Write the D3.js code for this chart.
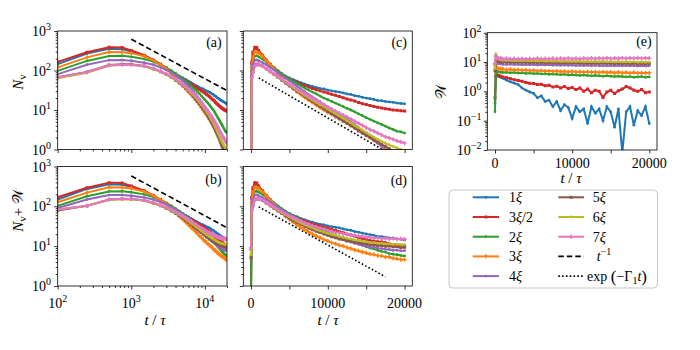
<!DOCTYPE html>
<html>
<head>
<meta charset="utf-8">
<script src="https://cdn.jsdelivr.net/npm/d3@7"></script>
<style>
  body { margin: 0; background: #fff; }
  svg text { font-family: "Liberation Serif", "Times New Roman", serif; fill: #000; }
</style>
</head>
<body>
<svg id="fig" width="700" height="350"></svg>
<script>
// time grid (t / tau) shared by every series
var T = [0, 100, 250, 500, 750, 1000, 1500, 2000, 2500, 3000, 3500, 4000, 4500, 5000, 5500, 6000,
  6500, 7000, 7500, 8000, 8500, 9000, 9500, 10000, 10500, 11000, 11500, 12000, 12500, 13000, 13500,
  14000, 14500, 15000, 15500, 16000, 16500, 17000, 17500, 18000, 18500, 19000, 19500, 20000];

var seriesNames = ["1", "3/2", "2", "3", "4", "5", "6", "7"];
var colors = ["#1f77b4", "#d62728", "#2ca02c", "#ff7f0e", "#9467bd", "#8c564b", "#bcbd22", "#e377c2"];
var markers = ["circle", "square", "circle", "cross", "circle", "square", "circle", "cross"];

// N_v, panels (a) and (c)
var nv1 = [0.1, 145, 270, 355, 345, 305, 235, 180, 142, 115, 95, 81, 72, 65, 59, 54, 49, 45.5, 42, 39.5, 37, 35, 34, 32, 30.5, 29.5, 28.5, 27, 25.5, 24.8, 23, 22.3, 21, 20, 19.3, 18.5, 17.5, 17.2, 16.5, 16, 15.7, 15, 14.7, 14.3];
var nv15 = [0.1, 165, 290, 390, 380, 320, 245, 185, 145, 116, 95, 80, 69, 61, 55, 49, 45, 41, 38, 35, 32.5, 30.5, 28.5, 27, 25, 23.5, 22, 20.5, 19, 18, 17, 15.5, 14.5, 13.7, 13, 12.3, 11.7, 11.2, 10.8, 10.4, 10, 9.8, 9.6, 9.5];
var nv2 = [0.1, 98, 175, 232, 235, 222, 195, 168, 140, 118, 99, 84, 72, 62, 54, 47, 41, 36, 32, 28.5, 25.5, 22.5, 20, 18.3, 16.5, 15, 13.5, 12.2, 11, 10, 9, 8, 7.2, 6.4, 5.8, 5.2, 4.7, 4.3, 3.9, 3.5, 3.2, 2.9, 2.8, 2.6];
var nv3 = [0.1, 120, 215, 295, 290, 275, 230, 180, 140, 110, 84, 64, 51, 42, 35, 29, 24.5, 21, 18, 15.5, 13.3, 11.5, 10, 8.7, 7.7, 6.8, 6, 5.3, 4.7, 4.1, 3.6, 3.1, 2.7, 2.3, 2, 1.7, 1.5, 1.3, 1.12, 0.95, 0.75, 0.55, 0.4, 0.3];
var nv4 = [0.1, 81, 140, 183, 185, 177, 158, 140, 120, 103, 88, 75, 64, 55, 47, 40, 34, 29, 25, 21.5, 18.5, 16, 13.8, 12, 10.4, 9, 7.8, 6.8, 5.8, 5, 4.3, 3.6, 3, 2.5, 2.1, 1.75, 1.45, 1.2, 0.95, 0.75, 0.6, 0.45, 0.35, 0.3];
var nv5 = [0.1, 68, 92, 138, 145, 143, 130, 110, 93, 79, 67, 57, 48, 41, 35, 30, 26, 22, 19, 16.5, 14.3, 12.4, 10.8, 9.3, 8.1, 7, 6.1, 5.3, 4.6, 4, 3.5, 3, 2.6, 2.3, 2, 1.75, 1.55, 1.35, 1.2, 1.05, 0.9, 0.75, 0.6, 0.5];
var nv6 = [0.1, 64, 88, 132, 138, 138, 128, 108, 93, 80, 68, 58, 50, 43, 37, 31.5, 27, 23.5, 20.5, 17.8, 15.5, 13.5, 12, 10.5, 9.2, 8.1, 7.1, 6.2, 5.4, 4.7, 4.1, 3.6, 3.1, 2.7, 2.35, 2.05, 1.8, 1.6, 1.45, 1.3, 1.2, 1.1, 1, 0.9];
var nv7 = [0.1, 67, 90, 135, 140, 140, 130, 112, 96, 83, 71, 61, 52, 45, 39, 34, 29.5, 26, 22.5, 20, 17.5, 15.5, 13.5, 11.7, 10.4, 9.3, 8.3, 7.4, 6.6, 5.9, 5.2, 4.6, 4.1, 3.6, 3.2, 2.9, 2.6, 2.35, 2.1, 1.95, 1.8, 1.65, 1.55, 1.45];

// W, panel (e)
var w1 = [0.4, 3.0, 3.4, 3.2, 3.0, 2.8, 2.4, 2.1, 1.9, 1.7, 1.3, 1.1, 0.95, 0.85, 0.6, 0.7, 0.45, 0.5, 0.3, 0.45, 0.22, 0.35, 0.28, 0.12, 0.3, 0.2, 0.25, 0.08, 0.3, 0.18, 0.25, 0.1, 0.3, 0.2, 0.06, 0.25, 0.008, 0.2, 0.3, 0.07, 0.22, 0.15, 0.3, 0.08];
var w15 = [0.6, 3.4, 3.7, 3.5, 3.3, 3.1, 2.9, 2.7, 2.5, 2.35, 2.2, 2.0, 1.9, 1.85, 1.7, 1.75, 1.55, 1.6, 1.4, 1.5, 1.3, 1.45, 1.25, 1.35, 1.15, 1.3, 1.0, 1.2, 0.9, 1.1, 1.0, 0.62, 0.95, 1.1, 0.85, 1.05, 1.2, 1.45, 1.3, 1.1, 1.0, 1.15, 0.9, 0.95];
var w2 = [0.2, 4.4, 4.8, 4.6, 4.5, 4.4, 4.5, 4.3, 4.4, 4.2, 4.3, 4.1, 4.2, 4.0, 4.1, 3.9, 4.0, 3.8, 3.9, 3.8, 3.7, 3.8, 3.6, 3.7, 3.6, 3.5, 3.6, 3.5, 3.4, 3.5, 3.4, 3.3, 3.4, 3.3, 3.2, 3.3, 3.2, 3.1, 3.2, 3.0, 3.1, 3.2, 3.0, 3.1];
var w3 = [8, 7, 6.3, 6.0, 5.8, 5.7, 5.5, 5.6, 5.4, 5.5, 5.2, 5.3, 5.1, 5.2, 5.0, 5.1, 4.9, 5.0, 4.8, 4.9, 4.7, 4.8, 4.6, 4.8, 4.6, 4.7, 4.5, 4.7, 4.5, 4.6, 4.4, 4.6, 4.4, 4.5, 4.3, 4.5, 4.3, 4.4, 4.2, 4.4, 4.2, 4.3, 4.2, 4.3];
var w4 = [6, 9.5, 9, 8.7, 8.5, 8.4, 8.3, 8.4, 8.2, 8.3, 8.1, 8.2, 8.0, 8.1, 7.9, 8.0, 7.9, 8.0, 7.8, 7.9, 7.7, 7.9, 7.7, 7.8, 7.6, 7.8, 7.6, 7.7, 7.5, 7.7, 7.5, 7.6, 7.5, 7.6, 7.4, 7.6, 7.4, 7.5, 7.4, 7.5, 7.3, 7.5, 7.3, 7.4];
var w5 = [5, 11, 10.6, 10.3, 10.2, 10.1, 10.0, 10.1, 9.9, 10.0, 9.8, 9.9, 9.7, 9.8, 9.6, 9.7, 9.5, 9.6, 9.4, 9.5, 9.3, 9.5, 9.3, 9.4, 9.2, 9.3, 9.1, 9.3, 9.1, 9.2, 9.0, 9.2, 9.0, 9.1, 8.9, 9.1, 8.9, 9.0, 8.8, 9.0, 8.8, 8.9, 8.7, 8.9];
var w6 = [6, 19, 15, 12.5, 11.8, 11.5, 11.3, 11.4, 11.1, 11.3, 11.0, 11.2, 10.9, 11.1, 10.8, 11.0, 10.7, 10.9, 10.6, 10.8, 10.5, 10.7, 10.5, 10.6, 10.4, 10.6, 10.3, 10.5, 10.3, 10.4, 10.2, 10.4, 10.2, 10.3, 10.1, 10.3, 10.0, 10.2, 10.0, 10.1, 9.9, 10.1, 9.9, 10.0];
var w7 = [9, 16, 14, 13.2, 13.5, 12.8, 13.2, 12.6, 13.0, 12.7, 13.1, 12.6, 13.0, 12.7, 13.2, 12.8, 13.1, 12.7, 13.3, 12.8, 13.2, 12.9, 13.4, 12.9, 13.3, 12.8, 13.4, 13.0, 13.5, 13.0, 13.4, 13.1, 13.6, 13.1, 13.5, 13.2, 13.7, 13.2, 13.6, 13.3, 13.8, 13.3, 13.7, 13.5];

// guide lines [t, value]
var powerA = [[1000, 620], [20000, 31]];
var powerB = [[1000, 580], [20000, 29]];
var expC = [[1000, 65], [17500, 0.9]];
var expD = [[1000, 97], [17500, 1.7]];

var nv = [nv1, nv15, nv2, nv3, nv4, nv5, nv6, nv7];
var w = [w1, w15, w2, w3, w4, w5, w6, w7];

var svg = d3.select("#fig");

var boxA = {x0: 57.7, x1: 227, y0: 31, y1: 149.5, id: "ca"};
var boxB = {x0: 57.7, x1: 227, y0: 166.5, y1: 286, id: "cb"};
var boxC = {x0: 243.3, x1: 412.3, y0: 31, y1: 149.5, id: "cc"};
var boxD = {x0: 243.3, x1: 412.3, y0: 166.5, y1: 286, id: "cd"};
var boxE = {x0: 487.3, x1: 657, y0: 32.7, y1: 150, id: "ce"};

function xLog(b) { return d3.scaleLog().domain([100, 20000]).range([b.x0, b.x1]); }
function xLin(b) { return d3.scaleLinear().domain([-1000, 21000]).range([b.x0, b.x1]); }
function yLog(b, lo, hi) { return d3.scaleLog().domain([lo, hi]).range([b.y1, b.y0]); }

function symbolFor(m) {
  if (m === "square") return d3.symbol().type(d3.symbolSquare).size(9)();
  if (m === "cross") return d3.symbol().type(d3.symbolCross).size(10)();
  return d3.symbol().type(d3.symbolCircle).size(6)();
}

var defs = svg.append("defs");

function drawPanel(b, xs, ys, valueAt, keepT) {
  defs.append("clipPath").attr("id", b.id).append("rect")
    .attr("x", b.x0).attr("y", b.y0).attr("width", b.x1 - b.x0).attr("height", b.y1 - b.y0);
  var plot = svg.append("g").attr("clip-path", "url(#" + b.id + ")");
  nv.forEach(function(_, i) {
    var pts = T.map(function(t, k) { return {t: t, v: valueAt(i, k)}; })
      .filter(function(d) { return keepT(d.t); });
    var line = d3.line().x(function(d) { return xs(d.t); }).y(function(d) { return ys(d.v); });
    plot.append("path").datum(pts).attr("d", line)
      .attr("fill", "none").attr("stroke", colors[i]).attr("stroke-width", 2);
    plot.selectAll(null).data(pts).enter().append("path")
      .attr("transform", function(d) { return "translate(" + xs(d.t) + "," + ys(d.v) + ")"; })
      .attr("d", symbolFor(markers[i]))
      .attr("fill", colors[i]);
  });
  return plot;
}

function guide(plot, pts, xs, ys, dash) {
  plot.append("path").datum(pts)
    .attr("d", d3.line().x(function(d) { return xs(d[0]); }).y(function(d) { return ys(d[1]); }))
    .attr("fill", "none").attr("stroke", "#000").attr("stroke-width", 1.6)
    .attr("stroke-dasharray", dash);
}

function logMinor(lo, hi) {
  var out = [];
  for (var e = lo; e < hi; e++) {
    for (var m = 2; m <= 9; m++) out.push(m * Math.pow(10, e));
  }
  return out;
}

function axes(b, xs, ys, xMajor, xMinor, yMajor, yMinor) {
  var gx = svg.append("g").attr("transform", "translate(0," + b.y1 + ")");
  gx.call(d3.axisBottom(xs).tickValues(xMajor).tickSize(3.5).tickSizeOuter(0).tickFormat(""));
  if (xMinor) {
    gx.append("g").call(d3.axisBottom(xs).tickValues(xMinor).tickSize(2).tickSizeOuter(0).tickFormat(""));
  }
  var gy = svg.append("g").attr("transform", "translate(" + b.x0 + ",0)");
  gy.call(d3.axisLeft(ys).tickValues(yMajor).tickSize(3.5).tickSizeOuter(0).tickFormat(""));
  gy.append("g").call(d3.axisLeft(ys).tickValues(yMinor).tickSize(2).tickSizeOuter(0).tickFormat(""));
  svg.selectAll(".domain").remove();
  svg.selectAll(".tick line").attr("stroke", "#000").attr("stroke-width", 0.8);
  svg.append("rect").attr("x", b.x0).attr("y", b.y0)
    .attr("width", b.x1 - b.x0).attr("height", b.y1 - b.y0)
    .attr("fill", "none").attr("stroke", "#000").attr("stroke-width", 0.8);
}

function pow10(x, y, e, anchor) {
  var t = svg.append("text").attr("x", x).attr("y", y).attr("text-anchor", anchor).style("font-size", "14px");
  t.append("tspan").text("10");
  t.append("tspan").attr("dy", -6).style("font-size", "10px").text(e);
}

function plain(x, y, s, anchor) {
  svg.append("text").attr("x", x).attr("y", y).attr("text-anchor", anchor)
    .style("font-size", "14px").text(s);
}

function tTau(x, y) {
  var t = svg.append("text").attr("x", x).attr("y", y).attr("text-anchor", "middle").style("font-size", "15px");
  t.append("tspan").style("font-style", "italic").text("t");
  t.append("tspan").text(" / ");
  t.append("tspan").style("font-style", "italic").text("τ");
}

var keepLog = function(t) { return t >= 100; };
var keepAll = function() { return true; };
var decadesY = [1, 10, 100, 1000];
var minorY = logMinor(0, 3);
var linTicks = [0, 5000, 10000, 15000, 20000];
var xLogMajor = [100, 1000, 10000];
var xLogMinor = logMinor(2, 4).concat([20000]);

// (a)
var xa = xLog(boxA), ya = yLog(boxA, 1, 1000);
var pa = drawPanel(boxA, xa, ya, function(i, k) { return nv[i][k]; }, keepLog);
guide(pa, powerA, xa, ya, "5.5,3");
axes(boxA, xa, ya, xLogMajor, xLogMinor, decadesY, minorY);

// (b)
var xb = xLog(boxB), yb = yLog(boxB, 1, 1000);
var pb = drawPanel(boxB, xb, yb, function(i, k) { return nv[i][k] + w[i][k]; }, keepLog);
guide(pb, powerB, xb, yb, "5.5,3");
axes(boxB, xb, yb, xLogMajor, xLogMinor, decadesY, minorY);

// (c)
var xc = xLin(boxC), yc = yLog(boxC, 1, 1000);
var pc = drawPanel(boxC, xc, yc, function(i, k) { return nv[i][k]; }, keepAll);
guide(pc, expC, xc, yc, "1.6,2.2");
axes(boxC, xc, yc, linTicks, null, decadesY, minorY);

// (d)
var xd = xLin(boxD), yd = yLog(boxD, 1, 1000);
var pd = drawPanel(boxD, xd, yd, function(i, k) { return nv[i][k] + w[i][k]; }, keepAll);
guide(pd, expD, xd, yd, "1.6,2.2");
axes(boxD, xd, yd, linTicks, null, decadesY, minorY);

// (e)
var xe = xLin(boxE), ye = yLog(boxE, 0.01, 100);
drawPanel(boxE, xe, ye, function(i, k) { return w[i][k]; }, keepAll);
axes(boxE, xe, ye, linTicks, null, [0.01, 0.1, 1, 10, 100], logMinor(-2, 2));

// tick labels
decadesY.forEach(function(v, i) {
  pow10(51, ya(v) + 5, String(i), "end");
  pow10(51, yb(v) + 5, String(i), "end");
});
[2, 3, 4].forEach(function(e) { pow10(xb(Math.pow(10, e)), 308, String(e), "middle"); });
[0, 10000, 20000].forEach(function(v) {
  plain(xd(v), 308, String(v), "middle");
  plain(xe(v), 168, String(v), "middle");
});
[-2, -1, 0, 1, 2].forEach(function(e) {
  pow10(481.5, ye(Math.pow(10, e)) + 5, e < 0 ? "\u2212" + (-e) : String(e), "end");
});

// panel letters
[["(a)", boxA, 46.5], ["(b)", boxB, 184], ["(c)", boxC, 46.5], ["(d)", boxD, 185], ["(e)", boxE, 46]].forEach(function(p) {
  plain(p[1].x1 - 5.3, p[2], p[0], "end");
});

// axis labels
tTau(155, 325);
tTau(328, 325);
tTau(571, 183);

var la = svg.append("text").attr("transform", "translate(23,82) rotate(-90)")
  .attr("text-anchor", "middle").style("font-size", "15px");
la.append("tspan").style("font-style", "italic").text("N");
la.append("tspan").attr("dy", 2.5).style("font-size", "11px").text("v");

var lb = svg.append("text").attr("transform", "translate(23,210) rotate(-90)")
  .attr("text-anchor", "middle").style("font-size", "15px");
lb.append("tspan").style("font-style", "italic").text("N");
lb.append("tspan").attr("dy", 2.5).style("font-size", "11px").text("v");
lb.append("tspan").attr("dy", -2.5).text("+ ");
lb.append("tspan").text("\uD835\uDCB2");

svg.append("text").attr("transform", "translate(446,91) rotate(-90)")
  .attr("text-anchor", "middle").style("font-size", "15px").text("\uD835\uDCB2");

// legend
svg.append("rect").attr("x", 449).attr("y", 190).attr("width", 208.5).attr("height", 98)
  .attr("rx", 4).attr("fill", "#fff").attr("stroke", "#c8c8c8").attr("stroke-width", 1);

var rowY = d3.range(5).map(function(r) { return 197.3 + r * 19.7; });
var legendItems = seriesNames.map(function(n, i) { return {kind: "series", i: i}; });
legendItems.push({kind: "dash"}, {kind: "dot"});

legendItems.forEach(function(it, j) {
  var col = j < 5 ? 0 : 1;
  var y = rowY[j < 5 ? j : j - 5];
  var lx0 = col ? 558.3 : 472.7, lx1 = col ? 584 : 499, tx = col ? 592.7 : 509;
  if (it.kind === "series") {
    svg.append("line").attr("x1", lx0).attr("x2", lx1).attr("y1", y).attr("y2", y)
      .attr("stroke", colors[it.i]).attr("stroke-width", 2);
    svg.append("path").attr("transform", "translate(" + (lx0 + lx1) / 2 + "," + y + ")")
      .attr("d", symbolFor(markers[it.i])).attr("fill", colors[it.i]);
    var name = seriesNames[it.i];
    var t = svg.append("text").attr("x", tx).attr("y", y + 5).style("font-size", "14px");
    if (name === "3/2") {
      t.append("tspan").text("3");
      t.append("tspan").style("font-style", "italic").text("ξ");
      t.append("tspan").text("/2");
    } else {
      t.append("tspan").text(name);
      t.append("tspan").style("font-style", "italic").text("ξ");
    }
  } else {
    svg.append("line").attr("x1", lx0).attr("x2", lx1).attr("y1", y).attr("y2", y)
      .attr("stroke", "#000").attr("stroke-width", 1.6)
      .attr("stroke-dasharray", it.kind === "dash" ? "5.5,3" : "1.6,2.2");
    var g = svg.append("text").attr("x", it.kind === "dash" ? tx : 587).attr("y", y + 5).style("font-size", "14px");
    if (it.kind === "dash") {
      g.append("tspan").attr("dx", 4).style("font-style", "italic").text("t");
      g.append("tspan").attr("dy", -6).style("font-size", "10px").text("\u22121");
    } else {
      g.append("tspan").text("exp ");
      g.append("tspan").style("font-size", "17px").attr("dy", 1).text("(");
      g.append("tspan").attr("dy", -1).text("\u2212\u0393");
      g.append("tspan").attr("dy", 3).style("font-size", "10px").text("1");
      g.append("tspan").attr("dy", -3).style("font-style", "italic").text("t");
      g.append("tspan").style("font-size", "17px").attr("dy", 1).text(")");
    }
  }
});
</script>
</body>
</html>
